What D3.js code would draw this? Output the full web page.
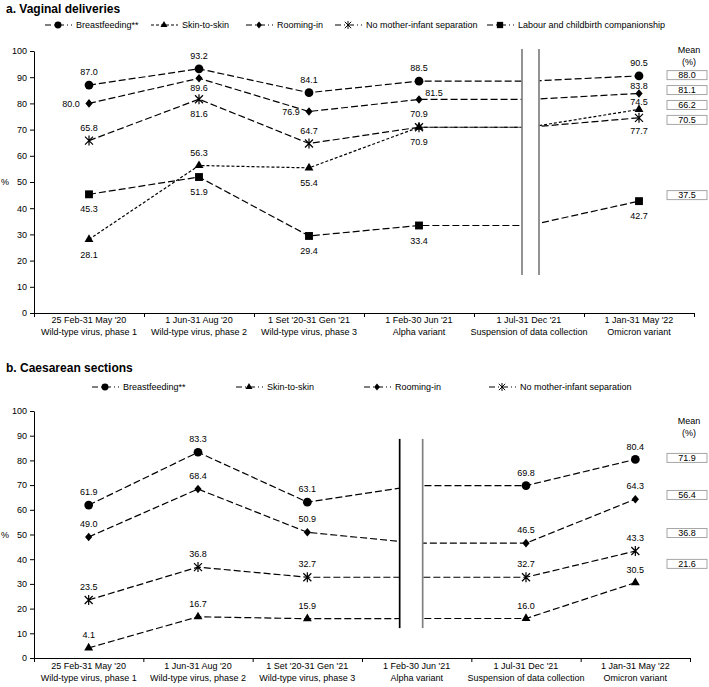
<!DOCTYPE html>
<html>
<head>
<meta charset="utf-8">
<script src="https://cdn.jsdelivr.net/npm/d3@7"></script>
<style>
  body { margin: 0; background: #fff; }
  text { font-family: "Liberation Sans", Arial, sans-serif; fill: #000; }
</style>
</head>
<body>
<div id="chart"></div>
<script>
// ---- data ----
var periods = ["25 Feb-31 May '20", "1 Jun-31 Aug '20", "1 Set '20-31 Gen '21",
               "1 Feb-30 Jun '21", "1 Jul-31 Dec '21", "1 Jan-31 May '22"];
var phases = ["Wild-type virus, phase 1", "Wild-type virus, phase 2", "Wild-type virus, phase 3",
              "Alpha variant", "Suspension of data collection", "Omicron variant"];
var yTicks = [0, 10, 20, 30, 40, 50, 60, 70, 80, 90, 100];

// a. vaginal deliveries
var vagBreastfeeding = [87.0, 93.2, 84.1, 88.5, null, 90.5];
var vagSkin          = [28.1, 56.3, 55.4, 70.9, null, 77.7];
var vagRooming       = [80.0, 89.6, 76.9, 81.5, null, 83.8];
var vagNoSeparation  = [65.8, 81.6, 64.7, 70.9, null, 74.5];
var vagLabour        = [45.3, 51.9, 29.4, 33.4, null, 42.7];
var vagMeans = ["88.0", "81.1", "66.2", "70.5", "37.5"];

// b. caesarean sections
var csBreastfeeding = [61.9, 83.3, 63.1, null, 69.8, 80.4];
var csSkin          = [4.1, 16.7, 15.9, null, 16.0, 30.5];
var csRooming       = [49.0, 68.4, 50.9, null, 46.5, 64.3];
var csNoSeparation  = [23.5, 36.8, 32.7, null, 32.7, 43.3];
var csMeans = ["71.9", "56.4", "36.8", "21.6"];

// label placement for each point (a = above, b = below, l = left ...)
var placeOffsets = {
  a:  [0, -13], b: [0, 15], as: [0, -8], bs: [0, 10],
  l:  [-18, 0], ar: [15, -7], a2: [0, -16], b2: [0, 21]
};

var W = 709, H = 687;
var svg = d3.select("#chart").append("svg")
    .attr("width", W)
    .attr("height", H);

function markerPath(type) {
  if (type == "circle") return d3.symbol(d3.symbolCircle, 60)();
  if (type == "triangle") return d3.symbol(d3.symbolTriangle, 34)();
  if (type == "diamond") return "M0,-4.3L3.6,0L0,4.3L-3.6,0Z";
  if (type == "square") return d3.symbol(d3.symbolSquare, 62)();
  // asterisk-like cross
  return "M-4,-4L4,4M-4,4L4,-4M0,-5L0,5";
}

function drawMarker(g, type, x, y, k) {
  var p = g.append("path")
      .attr("d", markerPath(type))
      .attr("transform", "translate(" + x + "," + y + ") scale(" + (k || 1) + ")");
  if (type == "star") {
    p.attr("fill", "none").attr("stroke", "#000").attr("stroke-width", 1.2);
  } else {
    p.attr("fill", "#000");
  }
}

function drawPanel(cfg) {
  var g = svg.append("g");

  g.append("text")
      .attr("x", 6)
      .attr("y", cfg.titleY)
      .style("font-size", "12px")
      .style("font-weight", "bold")
      .text(cfg.title);

  // legend
  cfg.series.forEach(function(s, i) {
    var tx = cfg.legendX[i];
    g.append("line")
        .attr("x1", tx - 31).attr("x2", tx - 4)
        .attr("y1", cfg.legendY).attr("y2", cfg.legendY)
        .attr("stroke", "#000")
        .attr("stroke-width", 1)
        .attr("stroke-dasharray", s.legendDash);
    drawMarker(g, s.marker, tx - 18, cfg.legendY, 0.8);
    g.append("text")
        .attr("x", tx)
        .attr("y", cfg.legendY)
        .attr("dy", "0.35em")
        .style("font-size", "9px")
        .text(s.name);
  });

  var y = d3.scaleLinear().domain([0, 100]).range([cfg.y0, cfg.y100]);
  var x = d3.scaleBand().domain(periods).range([cfg.xLeft, cfg.xRight]);
  var xTick = d3.scaleLinear().domain([0, periods.length]).range([cfg.xLeft, cfg.xRight]);
  var cx = function(i) { return x(periods[i]) + x.bandwidth() / 2; };

  // y axis
  var yAxis = g.append("g")
      .attr("transform", "translate(" + cfg.xLeft + ",0)")
      .call(d3.axisLeft(y).tickValues(yTicks).tickSize(4).tickSizeOuter(0));
  yAxis.selectAll("text").style("font-size", "9px").attr("x", -7);
  yAxis.select(".domain").attr("stroke", "#000");

  g.append("text")
      .attr("x", 5)
      .attr("y", y(50))
      .attr("dy", "0.35em")
      .attr("text-anchor", "middle")
      .style("font-size", "9px")
      .text("%");

  // x axis
  var xAxis = g.append("g")
      .attr("transform", "translate(0," + cfg.y0 + ")")
      .call(d3.axisBottom(xTick).tickValues(d3.range(periods.length + 1))
            .tickSize(4).tickSizeOuter(0).tickFormat(""));
  xAxis.select(".domain").attr("stroke", "#000").attr("stroke-width", 1.2);

  periods.forEach(function(p, i) {
    g.append("text")
        .attr("x", cx(i))
        .attr("y", cfg.y0 + cfg.labelGap)
        .attr("text-anchor", "middle")
        .style("font-size", "9px")
        .text(p);
    g.append("text")
        .attr("x", cx(i))
        .attr("y", cfg.y0 + cfg.labelGap + 12)
        .attr("text-anchor", "middle")
        .style("font-size", "9px")
        .text(phases[i]);
  });

  // lines: the missing period carries the value of its neighbour
  var line = d3.line()
      .x(function(d) { return cx(d.i); })
      .y(function(d) { return y(d.v); });

  cfg.series.forEach(function(s) {
    var pts = s.values.map(function(v, i) {
      return {i: i, v: v == null ? s.values[cfg.carryFrom] : v};
    });
    g.append("path")
        .datum(pts)
        .attr("d", line)
        .attr("fill", "none")
        .attr("stroke", "#000")
        .attr("stroke-width", 1.2)
        .attr("stroke-dasharray", s.dash);
  });

  // break in the time axis
  var bx = cx(cfg.gapIndex);
  g.append("rect")
      .attr("x", bx + cfg.breakOffsets[0])
      .attr("y", y(cfg.breakExtent[1]))
      .attr("width", cfg.breakOffsets[1] - cfg.breakOffsets[0])
      .attr("height", y(cfg.breakExtent[0]) - y(cfg.breakExtent[1]))
      .attr("fill", "#fff");
  cfg.breakOffsets.forEach(function(o, k) {
    g.append("line")
        .attr("x1", bx + o).attr("x2", bx + o)
        .attr("y1", y(cfg.breakExtent[1])).attr("y2", y(cfg.breakExtent[0]))
        .attr("stroke", cfg.breakColors[k])
        .attr("stroke-width", 1.7);
  });

  // markers and value labels
  cfg.series.forEach(function(s) {
    s.values.forEach(function(v, i) {
      if (v == null) return;
      drawMarker(g, s.marker, cx(i), y(v));
      var off = placeOffsets[s.place[i]];
      g.append("text")
          .attr("x", cx(i) + off[0])
          .attr("y", y(v) + off[1])
          .attr("dy", "0.35em")
          .attr("text-anchor", "middle")
          .style("font-size", "9px")
          .text(v.toFixed(1));
    });
  });

  // means
  g.append("text")
      .attr("x", 689).attr("y", y(cfg.meanHeaderAt))
      .attr("dy", "0.35em")
      .attr("text-anchor", "middle")
      .style("font-size", "9px")
      .text("Mean");
  g.append("text")
      .attr("x", 689).attr("y", y(cfg.meanHeaderAt) + 12)
      .attr("dy", "0.35em")
      .attr("text-anchor", "middle")
      .style("font-size", "9px")
      .text("(%)");
  cfg.means.forEach(function(m, i) {
    var my = y(cfg.meanAt[i]);
    g.append("rect")
        .attr("x", 667).attr("y", my - 4.5)
        .attr("width", 40).attr("height", 9)
        .attr("fill", "#fff")
        .attr("stroke", "#a6a6a6")
        .attr("stroke-width", 1);
    g.append("text")
        .attr("x", 687).attr("y", my)
        .attr("dy", "0.35em")
        .attr("text-anchor", "middle")
        .style("font-size", "9px")
        .text(m);
  });
}

var longDash = "7,3";
var shortDash = "3,2";
var legendDash = "6,3,1,3";

drawPanel({
  title: "a. Vaginal deliveries",
  titleY: 13, legendY: 25,
  legendX: [76, 182, 277, 366, 518],
  y0: 313, y100: 51, xLeft: 34, xRight: 694, labelGap: 10,
  gapIndex: 4, carryFrom: 3,
  breakOffsets: [-7, 10], breakExtent: [14.5, 100.8], breakColors: ["#808080", "#808080"],
  meanHeaderAt: 100.5, meanAt: [90.8, 85.1, 79.4, 73.7, 45],
  means: vagMeans,
  series: [
    {name: "Breastfeeding**", values: vagBreastfeeding, marker: "circle", dash: longDash, legendDash: legendDash,
     place: ["a", "a", "a", "a", null, "a"]},
    {name: "Skin-to-skin", values: vagSkin, marker: "triangle", dash: shortDash, legendDash: shortDash,
     place: ["b", "a", "b", "b", null, "b2"]},
    {name: "Rooming-in", values: vagRooming, marker: "diamond", dash: longDash, legendDash: legendDash,
     place: ["l", "bs", "l", "ar", null, "as"]},
    {name: "No mother-infant separation", values: vagNoSeparation, marker: "star", dash: longDash, legendDash: legendDash,
     place: ["a", "b", "a", "a", null, "a2"]},
    {name: "Labour and childbirth companionship", values: vagLabour, marker: "square", dash: longDash, legendDash: legendDash,
     place: ["b", "b", "b", "b", null, "b"]}
  ]
});

drawPanel({
  title: "b. Caesarean sections",
  titleY: 372, legendY: 387,
  legendX: [123, 267, 395, 520],
  y0: 658, y100: 411, xLeft: 34, xRight: 690, labelGap: 11,
  gapIndex: 3, carryFrom: 4,
  breakOffsets: [-17, 6], breakExtent: [12.1, 88.7], breakColors: ["#000", "#808080"],
  meanHeaderAt: 96, meanAt: [81, 66, 50.6, 38.1],
  means: csMeans,
  series: [
    {name: "Breastfeeding**", values: csBreastfeeding, marker: "circle", dash: longDash, legendDash: legendDash,
     place: ["a", "a", "a", null, "a", "a"]},
    {name: "Skin-to-skin", values: csSkin, marker: "triangle", dash: longDash, legendDash: legendDash,
     place: ["a", "a", "a", null, "a", "a"]},
    {name: "Rooming-in", values: csRooming, marker: "diamond", dash: longDash, legendDash: legendDash,
     place: ["a", "a", "a", null, "a", "a"]},
    {name: "No mother-infant separation", values: csNoSeparation, marker: "star", dash: longDash, legendDash: legendDash,
     place: ["a", "a", "a", null, "a", "a"]}
  ]
});
</script>
</body>
</html>
